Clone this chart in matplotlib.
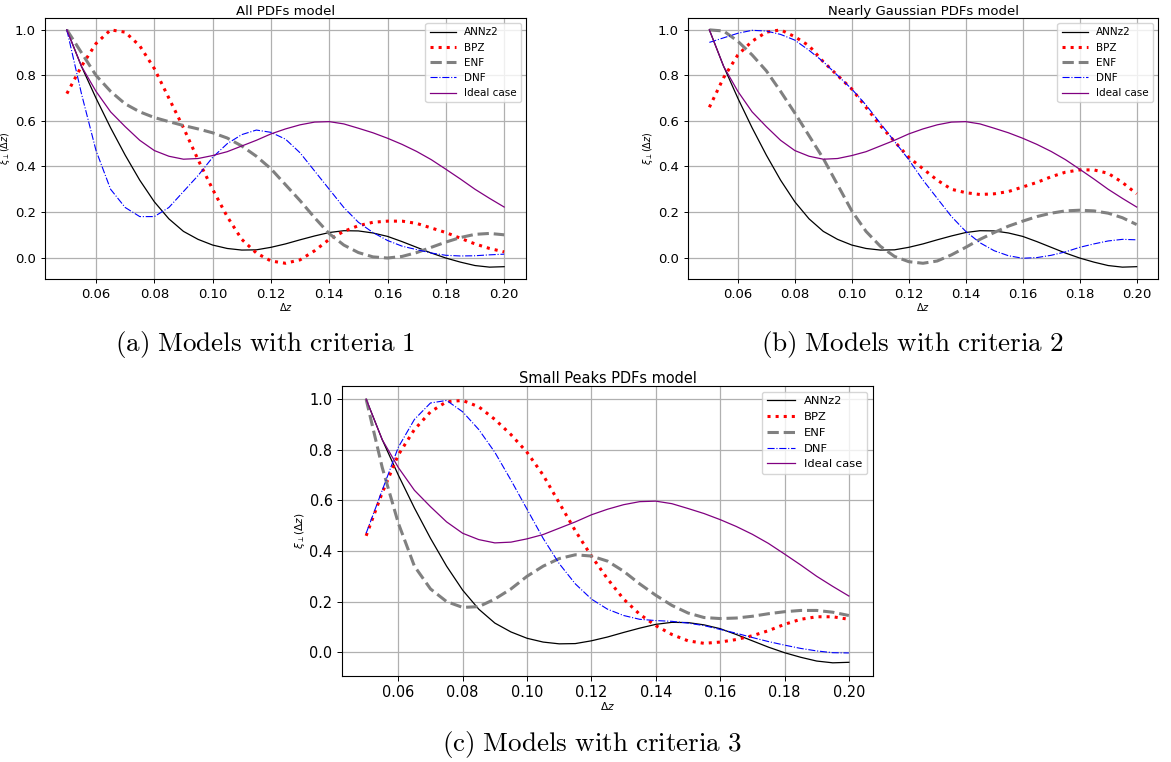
import numpy as np
import matplotlib.pyplot as plt

dz = [0.050, 0.055, 0.060, 0.065, 0.070, 0.075, 0.080, 0.085, 0.090, 0.095,
      0.100, 0.105, 0.110, 0.115, 0.120, 0.125, 0.130, 0.135, 0.140, 0.145,
      0.150, 0.155, 0.160, 0.165, 0.170, 0.175, 0.180, 0.185, 0.190, 0.195, 0.200]

# same in all three panels
annz2 = [1.00, 0.84, 0.70, 0.57, 0.45, 0.34, 0.245, 0.17, 0.115, 0.08,
         0.055, 0.04, 0.033, 0.034, 0.045, 0.06, 0.078, 0.095, 0.11, 0.118,
         0.117, 0.108, 0.093, 0.07, 0.045, 0.02, -0.002, -0.02, -0.035, -0.042, -0.04]
ideal = [1.00, 0.84, 0.73, 0.64, 0.575, 0.515, 0.47, 0.445, 0.432, 0.435,
         0.448, 0.465, 0.49, 0.515, 0.543, 0.565, 0.583, 0.595, 0.597, 0.587,
         0.568, 0.548, 0.524, 0.497, 0.466, 0.43, 0.388, 0.345, 0.30, 0.26, 0.222]

# (a) all PDFs
bpz_a = [0.72, 0.84, 0.94, 1.00, 0.99, 0.93, 0.83, 0.70, 0.57, 0.43,
         0.30, 0.18, 0.08, 0.02, -0.015, -0.025, -0.01, 0.03, 0.08, 0.115,
         0.14, 0.155, 0.16, 0.16, 0.15, 0.13, 0.11, 0.085, 0.06, 0.04, 0.025]
enf_a = [1.00, 0.90, 0.80, 0.73, 0.675, 0.64, 0.615, 0.597, 0.58, 0.565,
         0.548, 0.525, 0.49, 0.445, 0.39, 0.32, 0.25, 0.175, 0.105, 0.055,
         0.022, 0.003, -0.002, 0.005, 0.022, 0.045, 0.068, 0.088, 0.102, 0.106, 0.10]
dnf_a = [1.00, 0.72, 0.47, 0.30, 0.22, 0.18, 0.18, 0.22, 0.29, 0.36,
         0.44, 0.50, 0.54, 0.56, 0.55, 0.52, 0.46, 0.38, 0.30, 0.22,
         0.155, 0.11, 0.075, 0.05, 0.035, 0.02, 0.01, 0.007, 0.008, 0.012, 0.015]

# (b) nearly gaussian PDFs
bpz_b = [0.66, 0.79, 0.89, 0.95, 0.99, 1.00, 0.97, 0.93, 0.86, 0.80,
         0.74, 0.66, 0.58, 0.51, 0.44, 0.39, 0.34, 0.30, 0.285, 0.277,
         0.28, 0.29, 0.31, 0.33, 0.355, 0.375, 0.385, 0.385, 0.37, 0.33, 0.28]
enf_b = [1.00, 0.995, 0.95, 0.89, 0.82, 0.73, 0.635, 0.535, 0.435, 0.32,
         0.205, 0.115, 0.05, 0.005, -0.018, -0.025, -0.015, 0.012, 0.045, 0.08,
         0.11, 0.138, 0.16, 0.18, 0.195, 0.205, 0.208, 0.205, 0.195, 0.175, 0.145]
dnf_b = [0.945, 0.965, 0.985, 0.998, 0.995, 0.98, 0.955, 0.91, 0.86, 0.80,
         0.74, 0.67, 0.59, 0.51, 0.43, 0.34, 0.26, 0.18, 0.115, 0.065,
         0.03, 0.008, -0.003, 0.0, 0.01, 0.025, 0.045, 0.06, 0.073, 0.08, 0.078]

# (c) small peaks PDFs
bpz_c = [0.46, 0.63, 0.78, 0.88, 0.95, 0.99, 0.995, 0.97, 0.92, 0.86,
         0.79, 0.70, 0.59, 0.48, 0.38, 0.29, 0.21, 0.15, 0.105, 0.07,
         0.045, 0.035, 0.04, 0.05, 0.065, 0.085, 0.11, 0.13, 0.14, 0.14, 0.13]
enf_c = [1.00, 0.73, 0.51, 0.34, 0.25, 0.20, 0.177, 0.18, 0.21, 0.25,
         0.30, 0.34, 0.37, 0.385, 0.38, 0.36, 0.32, 0.27, 0.225, 0.185,
         0.155, 0.137, 0.133, 0.135, 0.142, 0.152, 0.16, 0.165, 0.165, 0.158, 0.145]
dnf_c = [0.47, 0.64, 0.81, 0.92, 0.985, 0.995, 0.95, 0.88, 0.79, 0.68,
         0.565, 0.45, 0.35, 0.27, 0.21, 0.17, 0.145, 0.13, 0.125, 0.122,
         0.115, 0.105, 0.09, 0.075, 0.058, 0.042, 0.028, 0.015, 0.005, -0.002, -0.003]

titles = ['All PDFs model', 'Nearly Gaussian PDFs model', 'Small Peaks PDFs model']
captions = ['(a) Models with criteria 1', '(b) Models with criteria 2', '(c) Models with criteria 3']


def panel(ax, bpz, enf, dnf, title, s=1.0):
    ax.plot(dz, annz2, color='black', lw=0.9, label='ANNz2')
    ax.plot(dz, bpz, color='red', ls=':', lw=2.2, label='BPZ')
    ax.plot(dz, enf, color='gray', ls='--', lw=2.2, label='ENF')
    ax.plot(dz, dnf, color='blue', ls='-.', lw=0.8, label='DNF')
    ax.plot(dz, ideal, color='purple', lw=0.9, label='Ideal case')
    ax.grid(True, color='#b0b0b0', lw=0.9)
    ax.set_xticks([0.06, 0.08, 0.10, 0.12, 0.14, 0.16, 0.18, 0.20])
    ax.set_yticks([0.0, 0.2, 0.4, 0.6, 0.8, 1.0])
    ax.tick_params(labelsize=9.5 * s, length=3 * s, width=0.7)
    ax.set_title(title, fontsize=9.5 * s, pad=2)
    ax.set_xlabel(r'$\Delta z$', fontsize=7 * s, labelpad=0)
    ax.set_ylabel(r'$\xi_\perp(\Delta z)$', fontsize=7 * s, labelpad=2)
    ax.legend(loc='upper right', fontsize=7.5 * s, handlelength=2.5)


fig = plt.figure(figsize=(11.71, 7.62), dpi=100)
W, H = 1171.0, 762.0
ax1 = fig.add_axes([45 / W, 1 - 279 / H, 481 / W, 261 / H])
ax2 = fig.add_axes([688 / W, 1 - 279 / H, 470 / W, 261 / H])
ax3 = fig.add_axes([342 / W, 1 - 676 / H, 531 / W, 290 / H])
panel(ax1, bpz_a, enf_a, dnf_a, titles[0])
panel(ax2, bpz_b, enf_b, dnf_b, titles[1])
panel(ax3, bpz_c, enf_c, dnf_c, titles[2], s=1.1)

# captions in a LaTeX-like serif
for txt, x, y in zip(captions, [265, 912, 592], [345, 345, 745]):
    fig.text(x / W, 1 - y / H, r'$\mathrm{' + txt.replace(' ', r'\ ') + '}$',
             ha='center', va='center', fontsize=19.5, math_fontfamily='cm')

fig.savefig('out.png', dpi=100)
